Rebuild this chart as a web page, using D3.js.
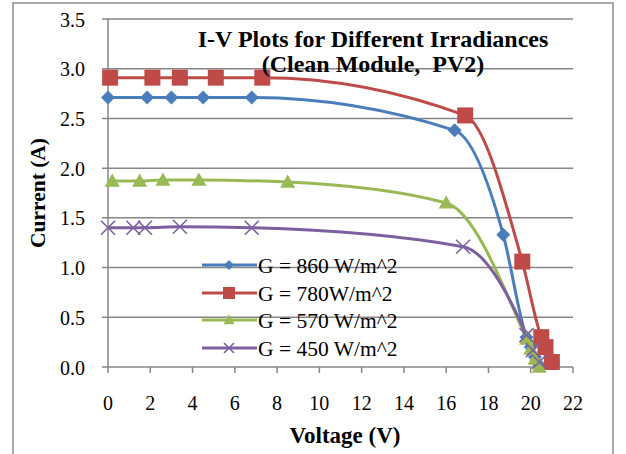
<!DOCTYPE html>
<html lang="en">
<head>
  <meta charset="UTF-8">
  <title>I-V Plots for Different Irradiances</title>
  <script src="https://d3js.org/d3.v7.min.js"></script>
  <style>
    body { margin: 0; background: #fff; }
    text { font-family: "Liberation Serif", "Times New Roman", serif; fill: #000; }
    .tick-label { font-size: 20px; }
    .grid { stroke: #868686; stroke-width: 1.5px; }
    .series { fill: none; stroke-width: 3px; }
  </style>
</head>
<body>
  <svg width="626" height="454"></svg>

  <script>
    // voltage (V) and current (A) per irradiance level
    const labels = ["G = 860 W/m^2", "G = 780W/m^2", "G = 570 W/m^2", "G = 450 W/m^2"];
    const colors = ["#4a7ebb", "#be4b48", "#98b954", "#7d60a0"];
    const shapes = ["diamond", "square", "triangle", "x"];

    const v860 = [0, 1.85, 3.0, 4.5, 6.8, 16.4, 18.7, 19.8, 20.0, 20.2, 20.4];
    const i860 = [2.71, 2.71, 2.71, 2.71, 2.71, 2.38, 1.33, 0.30, 0.20, 0.10, 0.02];
    const v780 = [0.1, 2.1, 3.4, 5.1, 7.3, 16.9, 19.6, 20.5, 20.7, 21.0];
    const i780 = [2.91, 2.91, 2.91, 2.91, 2.91, 2.53, 1.06, 0.30, 0.20, 0.05];
    const v570 = [0.2, 1.5, 2.6, 4.3, 8.5, 16.0, 19.8, 20.0, 20.2, 20.4];
    const i570 = [1.87, 1.87, 1.88, 1.88, 1.86, 1.65, 0.28, 0.18, 0.08, 0.0];
    const v450 = [0, 1.2, 1.75, 3.4, 6.8, 16.8, 19.8, 20.1, 20.4];
    const i450 = [1.40, 1.40, 1.40, 1.41, 1.40, 1.21, 0.32, 0.17, 0.05];

    const xTicks = d3.range(0, 23, 2);
    const yTicks = [0, 0.5, 1.0, 1.5, 2.0, 2.5, 3.0, 3.5];

    const series = [[v860, i860], [v780, i780], [v570, i570], [v450, i450]].map((s, k) => ({
      label: labels[k], color: colors[k], shape: shapes[k],
      points: s[0].map((v, j) => ({ v: v, i: s[1][j] }))
    }));

    const svg = d3.select("svg");

    // outer chart frame
    svg.append("rect")
      .attr("x", 13).attr("y", 3).attr("width", 600).attr("height", 470)
      .attr("fill", "none").attr("stroke", "#8c8c8c").attr("stroke-width", 1.5);

    const x = d3.scaleLinear().domain([0, 22]).range([108, 573]);
    const y = d3.scaleLinear().domain([0, 3.5]).range([367, 19]);

    // horizontal gridlines (with tick stubs left of the axis)
    svg.append("g").selectAll("line")
      .data(yTicks)
      .join("line")
      .attr("class", "grid")
      .attr("x1", 102).attr("x2", x(22))
      .attr("y1", d => y(d)).attr("y2", d => y(d));

    // y axis line
    svg.append("line").attr("class", "grid")
      .attr("x1", x(0)).attr("x2", x(0)).attr("y1", y(3.5)).attr("y2", y(0));

    // x tick marks
    svg.append("g").selectAll("line")
      .data(xTicks)
      .join("line")
      .attr("class", "grid")
      .attr("x1", d => x(d)).attr("x2", d => x(d))
      .attr("y1", y(0)).attr("y2", y(0) + 6);

    svg.append("g").selectAll("text")
      .data(yTicks)
      .join("text")
      .attr("class", "tick-label")
      .attr("x", 85).attr("y", d => y(d) + 7.5)
      .attr("text-anchor", "end")
      .text(d => d.toFixed(1));

    svg.append("g").selectAll("text")
      .data(xTicks)
      .join("text")
      .attr("class", "tick-label")
      .attr("x", d => x(d)).attr("y", 410)
      .attr("text-anchor", "middle")
      .text(d => d);

    // axis titles
    svg.append("text")
      .attr("x", 345).attr("y", 443)
      .attr("text-anchor", "middle")
      .style("font-size", "23px").style("font-weight", "bold")
      .text("Voltage (V)");

    svg.append("text")
      .attr("transform", "translate(45,193) rotate(-90)")
      .attr("text-anchor", "middle")
      .style("font-size", "21.5px").style("font-weight", "bold")
      .text("Current (A)");

    // marker shapes
    function markerPath(shape, s) {
      const h = s / 2;
      if (shape === "diamond") return `M0,${-h}L${h},0L0,${h}L${-h},0Z`;
      if (shape === "square") return `M${-h},${-h}H${h}V${h}H${-h}Z`;
      if (shape === "triangle") return `M0,${-h}L${h},${h * 0.75}L${-h},${h * 0.75}Z`;
      return `M${-h},${-h}L${h},${h}M${-h},${h}L${h},${-h}`;
    }

    function drawMarker(g, d, size) {
      const p = g.append("path").attr("d", markerPath(d.shape, size));
      if (d.shape === "x") {
        p.attr("fill", "none").attr("stroke", d.color).attr("stroke-width", 1.6);
      } else {
        p.attr("fill", d.color);
      }
      return p;
    }

    const line = d3.line()
      .x(d => x(d.v)).y(d => y(d.i))
      .curve(d3.curveMonotoneX);

    svg.append("g").selectAll("path")
      .data(series)
      .join("path")
      .attr("class", "series")
      .attr("stroke", d => d.color)
      .attr("d", d => line(d.points));

    const sizes = { diamond: 14, square: 16, triangle: 15, x: 14 };
    series.forEach(s => {
      s.points.forEach(p => {
        const g = svg.append("g").attr("transform", `translate(${x(p.v)},${y(p.i)})`);
        drawMarker(g, s, sizes[s.shape]);
      });
    });

    // legend
    const legendY = [265, 293, 320, 348];
    const legend = svg.append("g");
    series.forEach((s, k) => {
      const g = legend.append("g").attr("transform", `translate(202,${legendY[k]})`);
      g.append("line").attr("x1", 0).attr("x2", 55).attr("y1", 0).attr("y2", 0)
        .attr("stroke", s.color).attr("stroke-width", 3);
      const m = g.append("g").attr("transform", "translate(27,0)");
      drawMarker(m, s, { diamond: 10, square: 12, triangle: 11, x: 10 }[s.shape]);
      g.append("text").attr("x", 56).attr("y", 7.5)
        .style("font-size", "21.5px")
        .text(s.label);
    });

    // chart title
    const title = svg.append("text")
      .attr("text-anchor", "middle")
      .style("font-size", "24px").style("font-weight", "bold");
    title.append("tspan").attr("x", 373).attr("y", 47).text("I-V Plots for Different Irradiances");
    title.append("tspan").attr("x", 373).attr("y", 72)
      .text("(Clean Module,\u00a0 PV2)");
  </script>
</body>
</html>
